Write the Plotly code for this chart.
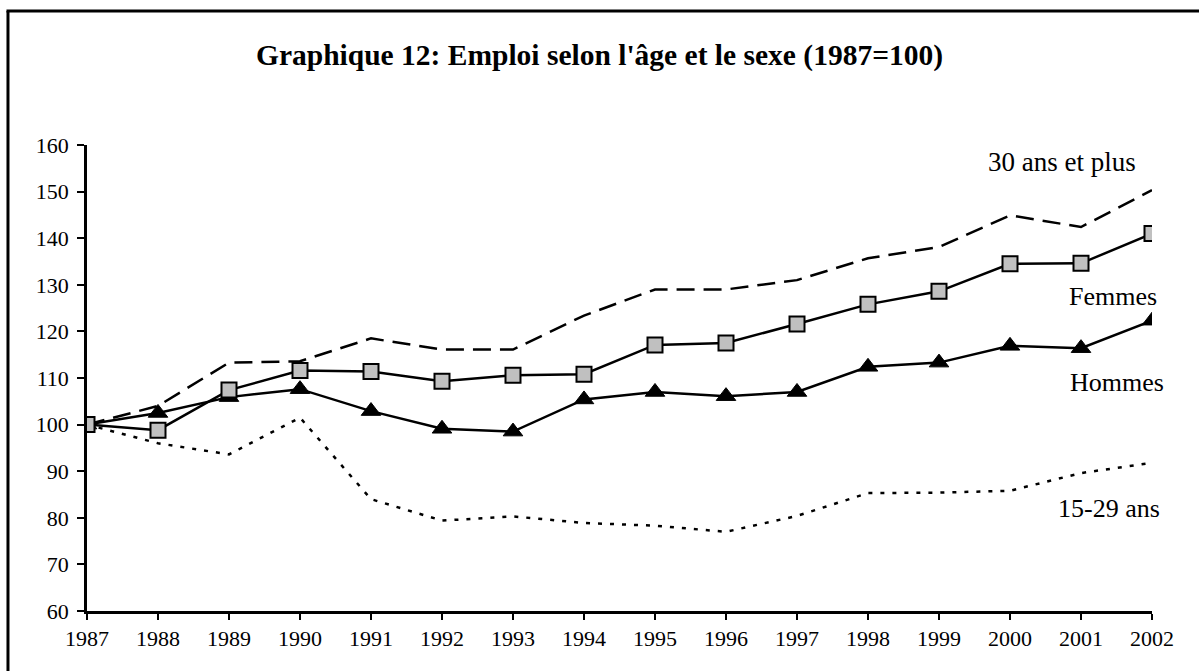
import plotly.graph_objects as go

years = list(range(1987, 2003))
femmes = [100, 98.8, 107.4, 111.6, 111.4, 109.3, 110.6, 110.8, 117.1, 117.5, 121.6, 125.8, 128.6, 134.5, 134.6, 141.0]
hommes = [100, 102.5, 105.9, 107.6, 102.9, 99.1, 98.5, 105.4, 107.0, 106.1, 107.0, 112.4, 113.3, 116.9, 116.4, 122.3]
plus30 = [100, 104.0, 113.3, 113.6, 118.5, 116.1, 116.1, 123.4, 129.0, 129.0, 131.0, 135.7, 138.1, 144.9, 142.4, 150.3]
jeunes = [100, 96.0, 93.6, 101.5, 84.0, 79.4, 80.3, 78.9, 78.3, 77.0, 80.4, 85.3, 85.4, 85.8, 89.6, 91.8]

labels = {"plus30": "30 ans et plus", "femmes": "Femmes", "hommes": "Hommes", "jeunes": "15-29 ans"}
title = "Graphique 12: Emploi selon l'âge et le sexe (1987=100)"
yticks = list(range(60, 161, 10))

font_family = "Liberation Serif, Times New Roman, serif"

fig = go.Figure()
fig.add_trace(go.Scatter(x=years, y=jeunes, mode="lines", name=labels["jeunes"],
                         line=dict(color="black", width=2.5, dash="4px,8px")))
fig.add_trace(go.Scatter(x=years, y=plus30, mode="lines", name=labels["plus30"],
                         line=dict(color="black", width=2.5, dash="18px,9px")))
fig.add_trace(go.Scatter(x=years, y=hommes, mode="lines+markers", name=labels["hommes"],
                         line=dict(color="black", width=2.5),
                         marker=dict(symbol="triangle-up", size=17, color="black",
                                     line=dict(color="black", width=1))))
fig.add_trace(go.Scatter(x=years, y=femmes, mode="lines+markers", name=labels["femmes"],
                         line=dict(color="black", width=2.5),
                         marker=dict(symbol="square", size=15, color="#c0c0c0",
                                     line=dict(color="black", width=2))))

# series labels placed at data coordinates
ann = [
    (labels["plus30"], 2000.73, 156.3),
    (labels["femmes"], 2001.45, 127.4),
    (labels["hommes"], 2001.5, 109.1),
    (labels["jeunes"], 2001.4, 82.1),
]
for text, xx, yy in ann:
    fig.add_annotation(x=xx, y=yy, text=text, showarrow=False, xref="x", yref="y",
                       font=dict(family=font_family, size=26 if text != labels["plus30"] else 27,
                                 color="black"))

# outer frame (left and top edges visible in the window)
fig.add_shape(type="line", xref="paper", yref="paper",
              x0=-0.0742, y0=-0.3, x1=-0.0742, y1=1.2876,
              line=dict(color="black", width=3), layer="above")
fig.add_shape(type="line", xref="paper", yref="paper",
              x0=-0.0756, y0=1.2876, x1=1.1, y1=1.2876,
              line=dict(color="black", width=3), layer="above")

fig.update_layout(
    width=1199, height=671,
    margin=dict(l=87, r=47, t=145, b=60),
    paper_bgcolor="white", plot_bgcolor="white",
    showlegend=False,
    title=dict(text="<b>" + title + "</b>", x=0.5, xref="container", xanchor="center",
               y=1 - 55 / 671, yref="container", yanchor="middle",
               font=dict(family=font_family, size=29.5, color="black")),
    font=dict(family=font_family, size=22, color="black"),
)
fig.update_xaxes(range=[1987, 2002], tickmode="array", tickvals=years,
                 ticktext=[str(y) for y in years],
                 showgrid=False, zeroline=False, showline=True, linecolor="black", linewidth=2.5,
                 ticks="outside", ticklen=6, tickwidth=2, tickcolor="black",
                 ticklabelstandoff=0,
                 tickfont=dict(family=font_family, size=22, color="black"))
fig.update_yaxes(range=[60, 160], tickmode="array", tickvals=yticks,
                 showgrid=False, zeroline=False, showline=True, linecolor="black", linewidth=2.5,
                 ticks="outside", ticklen=7, tickwidth=2, tickcolor="black",
                 ticklabelstandoff=4,
                 tickfont=dict(family=font_family, size=22, color="black"))

fig.write_html("out.html", config={"displayModeBar": False},
               post_script="document.body.style.margin='0';"
                           "document.body.style.overflow='hidden';"
                           "document.documentElement.style.overflow='hidden';")
